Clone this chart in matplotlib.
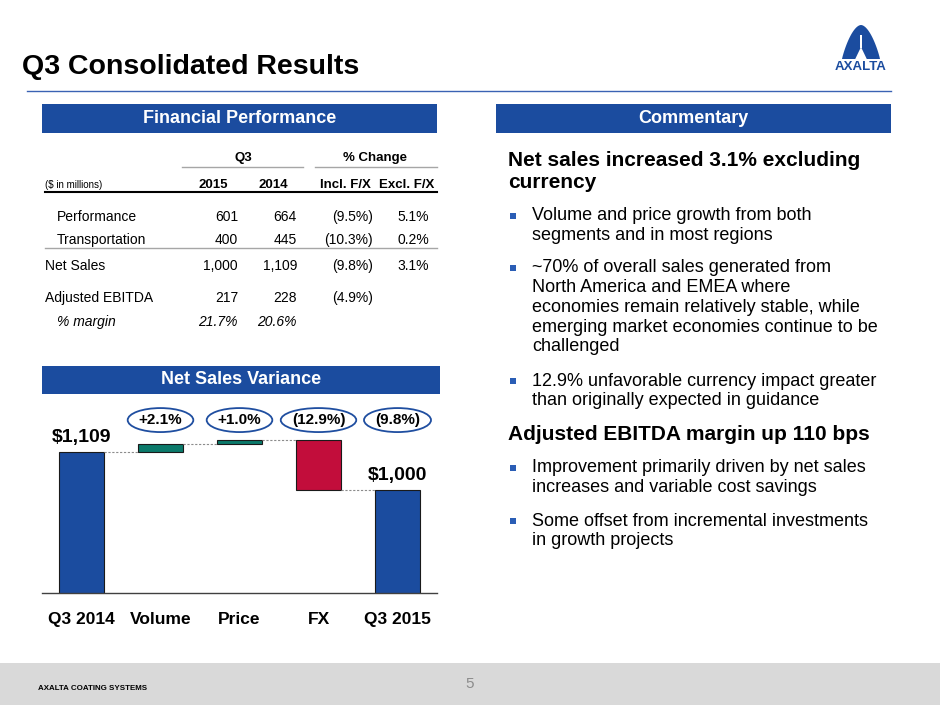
import numpy as np
import matplotlib.pyplot as plt
from matplotlib.patches import Rectangle, Polygon, Ellipse
from matplotlib.transforms import IdentityTransform

plt.rcParams['font.family'] = ['Liberation Sans', 'DejaVu Sans']

# -----------------------------
# Data
# -----------------------------
table_cols = ["2015", "2014", "Incl. F/X", "Excl. F/X"]
segment_names = ["Performance", "Transportation"]
segment_2015 = [601, 400]
segment_2014 = [664, 445]
segment_incl_fx = ["(9.5%)", "(10.3%)"]
segment_excl_fx = ["5.1%", "0.2%"]
net_sales = [1000, 1109]
net_sales_chg = ["(9.8%)", "3.1%"]
ebitda = [217, 228]
ebitda_chg = "(4.9%)"
ebitda_margin = ["21.7%", "20.6%"]

wf_labels = ["Q3 2014", "Volume", "Price", "FX", "Q3 2015"]
wf_start = 1109
wf_deltas = [23, 11, -143]
wf_end = 1000
wf_pct = ["+2.1%", "+1.0%", "(12.9%)", "(9.8%)"]

heading_1 = ["Net sales increased 3.1% excluding", "currency"]
bullets_1 = [
    ["Volume and price growth from both", "segments and in most regions"],
    ["~70% of overall sales generated from", "North America and EMEA where",
     "economies remain relatively stable, while",
     "emerging market economies continue to be", "challenged"],
    ["12.9% unfavorable currency impact greater",
     "than originally expected in guidance"],
]
heading_2 = ["Adjusted EBITDA margin up 110 bps"]
bullets_2 = [
    ["Improvement primarily driven by net sales",
     "increases and variable cost savings"],
    ["Some offset from incremental investments", "in growth projects"],
]

# -----------------------------
# Colours
# -----------------------------
BLUE = "#1b4c9f"
GREEN = "#0b7a6b"
RED = "#c20d3b"

fig = plt.figure(figsize=(9.4, 7.05), dpi=100)

# background axes in pixel coordinates
bg = fig.add_axes([0, 0, 1, 1])
bg.set_xlim(0, 940)
bg.set_ylim(705, 0)
bg.axis('off')

# -----------------------------
# Title, rule, logo, footer
# -----------------------------
bg.text(22, 67, "Q3 Consolidated Results", fontsize=20.5, fontweight='bold',
        va='center', ha='left')
bg.plot([27, 891], [91, 91], color="#3a62b3", lw=1)

# simple Axalta "A" mark
t = np.linspace(-1, 1, 60)
arch = np.column_stack([861 + 19 * t, 59 - 34 * (1 - np.abs(t) ** 1.8) ** 0.9])
bg.add_patch(Polygon(arch, closed=True, fc=BLUE, ec='none'))
bg.add_patch(Polygon([[855, 59.5], [861, 47], [867, 59.5]], closed=True,
                     fc='white', ec='none'))
bg.add_patch(Rectangle((859.7, 35), 2.6, 13, fc='white', ec='none'))
bg.text(861, 66.5, "AXALTA", fontsize=9.5, fontweight='bold', color=BLUE,
        ha='center', va='center')

bg.add_patch(Rectangle((0, 663), 940, 42, fc="#d9d9d9", ec='none'))
bg.text(38, 689, "AXALTA COATING SYSTEMS", fontsize=5.7, fontweight='bold',
        ha='left', va='center')
bg.text(470, 684, "5", fontsize=11, color="#8c8c8c", ha='center', va='center')

# -----------------------------
# Section header bars
# -----------------------------
for x0, x1, y0, y1, label in [(42, 437, 104, 133, "Financial Performance"),
                              (496, 891, 104, 133, "Commentary"),
                              (42, 440, 366, 394, "Net Sales Variance")]:
    bg.add_patch(Rectangle((x0, y0), x1 - x0, y1 - y0, fc=BLUE, ec='none'))
    bg.text((x0 + x1) / 2, (y0 + y1) / 2, label, color='white', fontsize=13,
            fontweight='bold', ha='center', va='center')

# -----------------------------
# Financial table
# -----------------------------
col_right = [238, 297, 373, 429]
col_center = [213, 273, 345, 407]

bg.text(243, 158, "Q3", fontsize=9.5, fontweight='bold', ha='center', va='center')
bg.text(375, 158, "% Change", fontsize=9.5, fontweight='bold', ha='center', va='center')
bg.plot([182, 303], [167, 167], color="#a6a6a6", lw=1)
bg.plot([315, 437], [167, 167], color="#a6a6a6", lw=1)
bg.text(45, 185, "($ in millions)", fontsize=7, ha='left', va='center')
for cx, name in zip(col_center, table_cols):
    bg.text(cx, 185, name, fontsize=9.5, fontweight='bold', ha='center', va='center')
bg.plot([45, 437], [192, 192], color="black", lw=1.5)

row_y = [217, 240]
for i, name in enumerate(segment_names):
    y = row_y[i]
    bg.text(57, y, name, fontsize=10, ha='left', va='center')
    vals = [f"{segment_2015[i]:,}", f"{segment_2014[i]:,}",
            segment_incl_fx[i], segment_excl_fx[i]]
    for rx, v in zip(col_right, vals):
        bg.text(rx, y, v, fontsize=10, ha='right', va='center')
bg.plot([45, 437], [248, 248], color="#a6a6a6", lw=1)

bg.text(45, 266, "Net Sales", fontsize=10, ha='left', va='center')
for rx, v in zip(col_right, [f"{net_sales[0]:,}", f"{net_sales[1]:,}"] + net_sales_chg):
    bg.text(rx, 266, v, fontsize=10, ha='right', va='center')

bg.text(45, 298, "Adjusted EBITDA", fontsize=10, ha='left', va='center')
for rx, v in zip(col_right, [f"{ebitda[0]:,}", f"{ebitda[1]:,}", ebitda_chg]):
    bg.text(rx, 298, v, fontsize=10, ha='right', va='center')

bg.text(57, 322, "% margin", fontsize=10, style='italic', ha='left', va='center')
for rx, v in zip(col_right, ebitda_margin):
    bg.text(rx, 322, v, fontsize=10, style='italic', ha='right', va='center')

# -----------------------------
# Commentary
# -----------------------------
def heading(lines, y0, step=23):
    for k, line in enumerate(lines):
        bg.text(508, y0 + k * step, line, fontsize=15, fontweight='bold',
                ha='left', va='center')


def bullet_block(blocks, starts, step=19.7):
    for lines, y0 in zip(blocks, starts):
        bg.add_patch(Rectangle((510, y0 - 3), 5.5, 5.5, fc="#2a5db5", ec='none'))
        for k, line in enumerate(lines):
            bg.text(532, y0 + k * step, line, fontsize=13, ha='left', va='center')


heading(heading_1, 160)
bullet_block(bullets_1, [216, 268, 381])
heading(heading_2, 435)
bullet_block(bullets_2, [468, 521])

# -----------------------------
# Waterfall chart
# -----------------------------
ax = fig.add_axes([42 / 940, (705 - 593) / 705, 395 / 940, 193 / 705])
ax.set_facecolor('none')

x = np.arange(len(wf_labels))
width = 0.56
levels = np.cumsum([wf_start] + wf_deltas)

ax.bar(x[0], wf_start, width, color=BLUE, edgecolor="#1a1a1a", lw=0.8)
ax.bar(x[-1], wf_end, width, color=BLUE, edgecolor="#1a1a1a", lw=0.8)
for j, d in enumerate(wf_deltas):
    ax.bar(x[j + 1], d, width, bottom=levels[j], color=GREEN if d > 0 else RED,
           edgecolor="#1a1a1a", lw=0.8)

for i in range(len(levels)):
    ax.plot([x[i] + width / 2, x[i + 1] - width / 2], [levels[i], levels[i]],
            color="#8c8c8c", lw=0.8, ls=(0, (2, 1.5)))

for xi, v in [(x[0], wf_start), (x[-1], wf_end)]:
    ax.annotate(f"${v:,}", (xi, v), xytext=(0, 4), textcoords='offset points',
                ha='center', va='bottom', fontsize=14, fontweight='bold')

ax.set_xlim(-0.5, len(wf_labels) - 0.5)
ax.set_ylim(704, 1258)
ax.set_xticks(x)
ax.set_xticklabels(wf_labels, fontsize=12.5, fontweight='bold')
ax.tick_params(axis='x', length=0, pad=14)
ax.set_yticks([])
for s in ['top', 'left', 'right']:
    ax.spines[s].set_visible(False)
ax.spines['bottom'].set_color("#404040")
ax.spines['bottom'].set_linewidth(1)

# percentage ovals sized from their text
pct_texts = []
for xi, lab in zip(x[1:], wf_pct):
    pct_texts.append(ax.text(xi, 0.896, lab, transform=ax.get_xaxis_transform(),
                             ha='center', va='center', fontsize=11,
                             fontweight='bold', zorder=5))
fig.canvas.draw()
renderer = fig.canvas.get_renderer()
for txt in pct_texts:
    bb = txt.get_window_extent(renderer)
    cx = (bb.x0 + bb.x1) / 2
    cy = (bb.y0 + bb.y1) / 2
    fig.add_artist(Ellipse((cx, cy), bb.width + 22, 24, transform=IdentityTransform(),
                           fc='white', ec="#1f4ea0", lw=1.3, zorder=4))
    txt.remove()
    fig.text(cx, cy, txt.get_text(), transform=IdentityTransform(), ha='center',
             va='center', fontsize=11, fontweight='bold', zorder=6)

fig.savefig("out.png", dpi=100)
